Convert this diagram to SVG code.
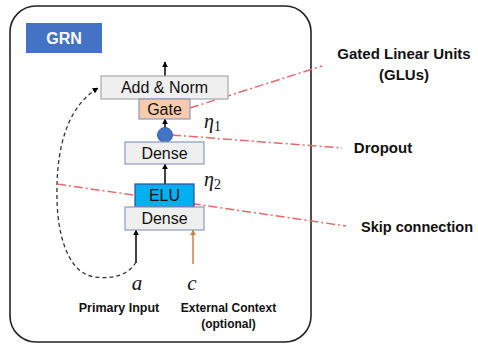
<svg xmlns="http://www.w3.org/2000/svg" width="478" height="345" viewBox="0 0 478 345">
  <defs>
    <marker id="arr" viewBox="0 0 10 10" refX="9" refY="5" markerWidth="6" markerHeight="6" orient="auto" markerUnits="userSpaceOnUse">
      <path d="M0,0 L10,5 L0,10 z" fill="#000"/>
    </marker>
    <marker id="arrOrange" viewBox="0 0 10 10" refX="9" refY="5" markerWidth="6" markerHeight="6" orient="auto" markerUnits="userSpaceOnUse">
      <path d="M0,0 L10,5 L0,10 z" fill="#D0803F"/>
    </marker>
    <style>
      .box { fill: #EFEFEF; stroke: #8A9BBB; stroke-width: 1.2; }
      .lbl { font-family: "Liberation Sans", Arial, sans-serif; font-size: 16px; fill: #111; text-anchor: middle; }
      .bold { font-family: "Liberation Sans", Arial, sans-serif; font-weight: bold; fill: #111; text-anchor: middle; }
      .math { font-family: "Liberation Serif", "DejaVu Serif", serif; font-style: italic; fill: #111; }
      .flow { stroke: #000; stroke-width: 1.5; fill: none; marker-end: url(#arr); }
      .callout { stroke: #E46A6A; stroke-width: 1.5; fill: none; stroke-dasharray: 9 3 2 3; }
    </style>
  </defs>

  <!-- outer frame -->
  <rect x="10" y="6" width="301" height="336" rx="26" ry="26" fill="#fff" stroke="#222" stroke-width="1.6"/>

  <!-- title badge -->
  <g id="grn-title">
    <rect x="26" y="23" width="76" height="30" fill="#4472C4"/>
    <text x="64" y="44" class="bold" font-size="16" fill="#fff" style="fill:#fff">GRN</text>
  </g>

  <!-- connectors -->
  <g id="connectors">
    <line class="flow" x1="165" y1="76" x2="165" y2="62"/>
    <line class="flow" x1="165" y1="129" x2="165" y2="119"/>
    <line class="flow" x1="165" y1="184" x2="165" y2="164"/>
    <line class="flow" x1="136" y1="263" x2="136" y2="230"/>
    <line x1="193" y1="264" x2="193" y2="230" stroke="#D0803F" stroke-width="1.5" marker-end="url(#arrOrange)"/>
    <!-- residual path around the block -->
    <path d="M136,262 C128,276 112,279 95,277 C70,274 58,240 57,200 C56,160 62,110 98,88" fill="none" stroke="#333" stroke-width="1.3" stroke-dasharray="4 3" marker-end="url(#arr)"/>
    <!-- annotation leaders -->
    <line class="callout" x1="190" y1="108" x2="322" y2="66"/>
    <line class="callout" x1="172" y1="135" x2="342" y2="148"/>
    <line class="callout" x1="57" y1="184" x2="346" y2="226"/>
  </g>

  <g id="add-norm">
    <rect class="box" x="101" y="76" width="127" height="23" style="stroke:#A8A8A8"/>
    <text x="164.5" y="93" class="lbl">Add &amp; Norm</text>
  </g>

  <g id="gate">
    <rect x="139" y="99" width="51" height="20" fill="#F8CBAD" stroke="#8A9BBB" stroke-width="1.2"/>
    <text x="164.5" y="115" class="lbl">Gate</text>
  </g>

  <g id="dropout">
    <circle cx="165" cy="135" r="7.5" fill="#4472C4" stroke="#3A62A8" stroke-width="1"/>
  </g>

  <g id="dense-upper">
    <rect class="box" x="125" y="142" width="79" height="22"/>
    <text x="164.5" y="159" class="lbl">Dense</text>
  </g>

  <g id="elu">
    <rect x="135" y="184" width="59" height="23" fill="#00B0F0" stroke="#2F4F8F" stroke-width="1.2"/>
    <text x="164.5" y="201" class="lbl" font-size="15">ELU</text>
  </g>

  <g id="dense-lower">
    <rect class="box" x="125" y="207" width="79" height="23"/>
    <text x="164.5" y="224" class="lbl">Dense</text>
  </g>

  <!-- symbols -->
  <text x="204" y="128" class="math" font-size="20">η<tspan font-size="14" font-style="normal" dy="3">1</tspan></text>
  <text x="204" y="186" class="math" font-size="20">η<tspan font-size="14" font-style="normal" dy="3">2</tspan></text>
  <text x="137" y="290" class="math" font-size="21" text-anchor="middle">a</text>
  <text x="192" y="290" class="math" font-size="21" text-anchor="middle">c</text>

  <!-- input captions -->
  <text x="119" y="312" class="bold" font-size="12.5">Primary Input</text>
  <text x="228.5" y="312" class="bold" font-size="12">External Context</text>
  <text x="228.5" y="328" class="bold" font-size="12">(optional)</text>

  <!-- annotation captions -->
  <text x="404" y="59" class="bold" font-size="15">Gated Linear Units</text>
  <text x="404" y="80" class="bold" font-size="15">(GLUs)</text>
  <text x="383" y="153" class="bold" font-size="15">Dropout</text>
  <text x="417" y="232" class="bold" font-size="14.5">Skip connection</text>
</svg>
